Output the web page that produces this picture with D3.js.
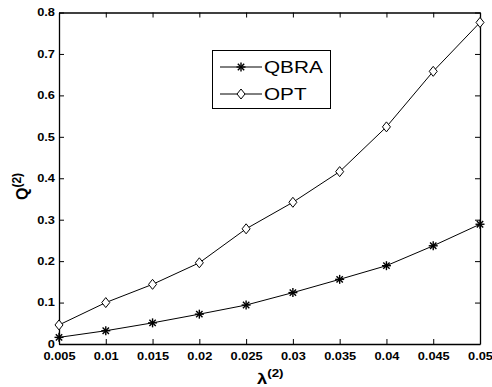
<!DOCTYPE html>
<html>
<head>
<meta charset="utf-8">
<script src="https://cdn.jsdelivr.net/npm/d3@7"></script>
<style>
body { margin: 0; background: #fff; }
text { font-family: Arial, "Liberation Sans", sans-serif; }
</style>
</head>
<body>
<script>
// values
const lambda = [0.005, 0.01, 0.015, 0.02, 0.025, 0.03, 0.035, 0.04, 0.045, 0.05];
const qbra = [0.016, 0.032, 0.051, 0.072, 0.094, 0.124, 0.156, 0.189, 0.237, 0.289];
const opt = [0.046, 0.100, 0.144, 0.196, 0.278, 0.342, 0.416, 0.524, 0.658, 0.776];
const xTicks = [0.005, 0.01, 0.015, 0.02, 0.025, 0.03, 0.035, 0.04, 0.045, 0.05];
const yTicks = [0, 0.1, 0.2, 0.3, 0.4, 0.5, 0.6, 0.7, 0.8];

const W = 492, H = 387;
const margin = { top: 12.5, right: 12, bottom: 43, left: 59 };
const stretch = 1.22; // the source image is a bit wider than tall

const svg = d3.select('body').append('svg')
    .attr('width', W)
    .attr('height', H);

const x = d3.scaleLinear().domain([0.005, 0.05]).range([margin.left, W - margin.right]);
const y = d3.scaleLinear().domain([0, 0.8]).range([H - margin.bottom, margin.top]);

const tickFmt = d => d === 0 ? '0' : String(d);

// bottom axis
const gx = svg.append('g')
    .attr('transform', `translate(0,${H - margin.bottom})`)
    .call(d3.axisBottom(x).tickValues(xTicks).tickFormat(tickFmt).tickSizeInner(-5).tickSizeOuter(0).tickPadding(8.5));
// top axis
const gxt = svg.append('g')
    .attr('transform', `translate(0,${margin.top})`)
    .call(d3.axisTop(x).tickValues(xTicks).tickFormat('').tickSizeInner(-5).tickSizeOuter(0));
// left axis
const gy = svg.append('g')
    .attr('transform', `translate(${margin.left},0)`)
    .call(d3.axisLeft(y).tickValues(yTicks).tickFormat(tickFmt).tickSizeInner(-5).tickSizeOuter(0).tickPadding(3.3));
// right axis
const gyr = svg.append('g')
    .attr('transform', `translate(${W - margin.right},0)`)
    .call(d3.axisRight(y).tickValues(yTicks).tickFormat('').tickSizeInner(-5).tickSizeOuter(0));

[gx, gxt, gy, gyr].forEach(g => {
  g.select('.domain').attr('stroke', '#000').attr('stroke-width', 1.3);
  g.selectAll('.tick line').attr('stroke', '#000');
  g.selectAll('.tick text')
      .attr('fill', '#000')
      .attr('transform', `scale(${stretch},1)`)
      .style('font-size', '10.5px')
      .style('font-weight', 'bold');
});

const line = d3.line().x((d, i) => x(lambda[i])).y(d => y(d));

svg.append('path').datum(qbra).attr('d', line)
    .attr('fill', 'none').attr('stroke', '#000').attr('stroke-width', 1);
svg.append('path').datum(opt).attr('d', line)
    .attr('fill', 'none').attr('stroke', '#000').attr('stroke-width', 1);

function star(g, cx, cy) {
  const r = 4.5;
  const s = g.append('g').attr('transform', `translate(${cx},${cy})`);
  [0, 45, 90, 135].forEach(a => {
    const rad = a * Math.PI / 180;
    s.append('line')
        .attr('x1', -r * Math.cos(rad)).attr('y1', -r * Math.sin(rad))
        .attr('x2', r * Math.cos(rad)).attr('y2', r * Math.sin(rad))
        .attr('stroke', '#000').attr('stroke-width', 1.4);
  });
}
function diamond(g, cx, cy) {
  const w = 4, h = 5;
  g.append('path')
      .attr('d', `M${cx},${cy - h}L${cx + w},${cy}L${cx},${cy + h}L${cx - w},${cy}Z`)
      .attr('fill', '#fff').attr('stroke', '#000').attr('stroke-width', 1);
}

const marks = svg.append('g');
qbra.forEach((d, i) => star(marks, x(lambda[i]), y(d)));
opt.forEach((d, i) => diamond(marks, x(lambda[i]), y(d)));

// legend
const leg = svg.append('g');
leg.append('rect')
    .attr('x', 212.5).attr('y', 50.5).attr('width', 118).attr('height', 58)
    .attr('fill', '#fff').attr('stroke', '#000').attr('stroke-width', 1);
const names = ['QBRA', 'OPT'];
names.forEach((n, i) => {
  const ly = 67 + i * 27;
  leg.append('line').attr('x1', 220).attr('x2', 262).attr('y1', ly).attr('y2', ly)
      .attr('stroke', '#000').attr('stroke-width', 1);
  if (i === 0) star(leg, 241, ly); else diamond(leg, 241, ly);
  leg.append('text')
      .attr('transform', `translate(264,${ly + 6.2}) scale(${stretch},1)`)
      .style('font-size', '17px').attr('fill', '#000').text(n);
});

// axis titles
svg.append('text')
    .attr('transform', `translate(257,384) scale(${stretch},1)`)
    .style('font-size', '15px').style('font-weight', 'bold')
    .html('λ<tspan dy="-7" font-size="11px">(2)</tspan>');

svg.append('text')
    .attr('transform', 'translate(28,200) rotate(-90)')
    .style('font-size', '16px').style('font-weight', 'bold')
    .html('Q<tspan dy="-7" font-size="12px">(2)</tspan>');
</script>
</body>
</html>
